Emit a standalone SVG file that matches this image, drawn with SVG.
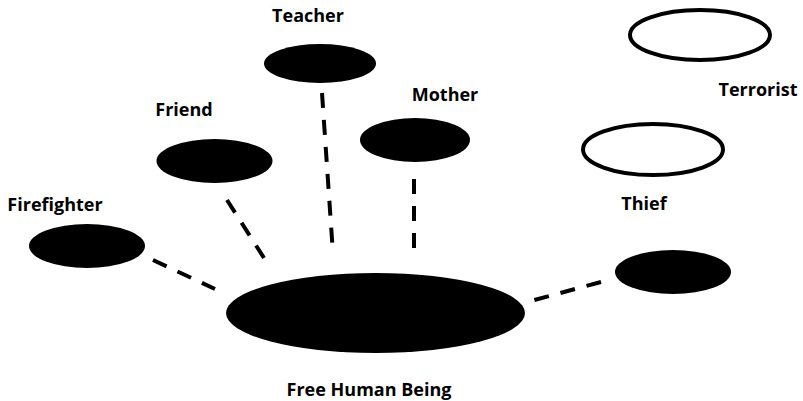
<svg xmlns="http://www.w3.org/2000/svg" width="803" height="401" viewBox="0 0 803 401">
<style>
.n{fill:#000}
.o{fill:#fff;stroke:#000;stroke-width:4}
.t{font-family:"Open Sans","Liberation Sans",sans-serif;font-weight:bold;font-size:18px;fill:#000;text-anchor:middle}
.c{stroke:#000;stroke-width:4;stroke-dasharray:15 12;fill:none}
</style>
<rect width="803" height="401" fill="#fff"/>
<g id="connectors">
<line class="c" x1="153" y1="260" x2="215" y2="289"/>
<line class="c" x1="227" y1="200" x2="264" y2="258"/>
<line class="c" x1="322" y1="93" x2="333" y2="254"/>
<line class="c" x1="414" y1="179" x2="414" y2="252"/>
<line class="c" x1="601" y1="282" x2="527" y2="302"/>
</g>
<g id="free-human-being">
<ellipse class="n" cx="375.5" cy="313" rx="149.5" ry="40"/>
<text class="t" x="369" y="396">Free Human Being</text>
</g>
<g id="firefighter">
<ellipse class="n" cx="87" cy="246" rx="58" ry="22"/>
<text class="t" x="55" y="211">Firefighter</text>
</g>
<g id="friend">
<ellipse class="n" cx="214.5" cy="161" rx="58" ry="22"/>
<text class="t" x="184" y="116">Friend</text>
</g>
<g id="teacher">
<ellipse class="n" cx="320" cy="63.5" rx="56" ry="19.5"/>
<text class="t" x="308" y="22">Teacher</text>
</g>
<g id="mother">
<ellipse class="n" cx="415" cy="140" rx="55" ry="22"/>
<text class="t" x="445" y="101">Mother</text>
</g>
<g id="terrorist">
<ellipse class="o" cx="700" cy="35" rx="70" ry="25"/>
<text class="t" x="758" y="96">Terrorist</text>
</g>
<g id="thief">
<ellipse class="o" cx="653" cy="149.5" rx="70" ry="25.5"/>
<text class="t" x="644" y="210">Thief</text>
<ellipse class="n" cx="673" cy="272" rx="58" ry="22"/>
</g>
</svg>
